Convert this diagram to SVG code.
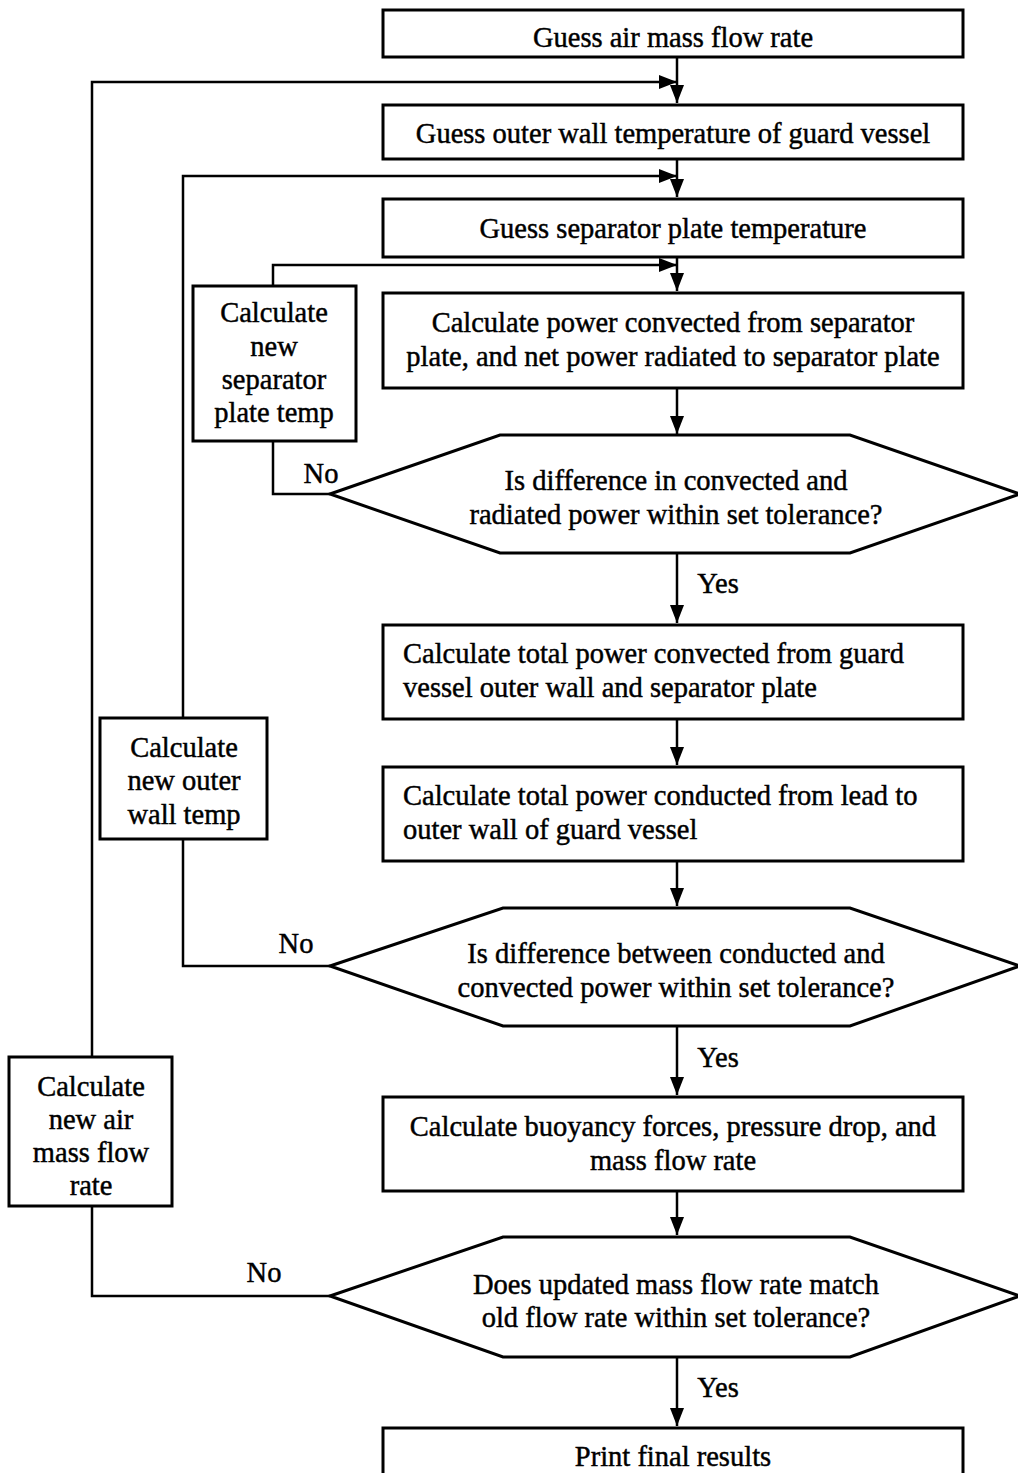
<svg xmlns="http://www.w3.org/2000/svg" width="1018" height="1473" viewBox="0 0 1018 1473">
<style>
.b{fill:#fff;stroke:#000;stroke-width:3}
.c{fill:none;stroke:#000;stroke-width:2.5}
text{font-family:"Liberation Serif","Times New Roman",serif;font-size:28.5px;fill:#000;stroke:#000;stroke-width:0.45}
.m{text-anchor:middle}
</style>
<defs>
<marker id="a" viewBox="0 0 18 14" refX="18" refY="7" markerWidth="18" markerHeight="14" markerUnits="userSpaceOnUse" orient="auto">
<path d="M0,0 L18,7 L0,14 Z" fill="#000"/>
</marker>
</defs>
<rect width="1018" height="1473" fill="#fff"/>
<g id="connectors">
<path class="c" d="M677,57 V103" marker-end="url(#a)"/>
<path class="c" d="M92,1057 V82 H677" marker-end="url(#a)"/>
<path class="c" d="M677,159 V197" marker-end="url(#a)"/>
<path class="c" d="M183,718 V176 H677" marker-end="url(#a)"/>
<path class="c" d="M677,257 V291" marker-end="url(#a)"/>
<path class="c" d="M273,286 V265 H677" marker-end="url(#a)"/>
<path class="c" d="M677,388 V434" marker-end="url(#a)"/>
<path class="c" d="M330,494 H273 V441"/>
<path class="c" d="M677,553 V623" marker-end="url(#a)"/>
<path class="c" d="M677,719 V765" marker-end="url(#a)"/>
<path class="c" d="M677,861 V906" marker-end="url(#a)"/>
<path class="c" d="M330,966 H183 V839"/>
<path class="c" d="M677,1026 V1095" marker-end="url(#a)"/>
<path class="c" d="M677,1191 V1235" marker-end="url(#a)"/>
<path class="c" d="M330,1296 H92 V1206"/>
<path class="c" d="M677,1357 V1426" marker-end="url(#a)"/>
<text x="321" y="483" class="m">No</text>
<text x="718" y="593" class="m">Yes</text>
<text x="296" y="953" class="m">No</text>
<text x="718" y="1067" class="m">Yes</text>
<text x="264" y="1282" class="m">No</text>
<text x="718" y="1397" class="m">Yes</text>
</g>
<g id="n1"><rect class="b" x="383" y="10" width="580" height="47"/><text x="673" y="47" class="m">Guess air mass flow rate</text></g>
<g id="n2"><rect class="b" x="383" y="105" width="580" height="54"/><text x="673" y="143" class="m">Guess outer wall temperature of guard vessel</text></g>
<g id="n3"><rect class="b" x="383" y="199" width="580" height="58"/><text x="673" y="238" class="m">Guess separator plate temperature</text></g>
<g id="n4"><rect class="b" x="383" y="293" width="580" height="95"/><text x="673" y="332" class="m">Calculate power convected from separator</text><text x="673" y="366" class="m">plate, and net power radiated to separator plate</text></g>
<g id="n5"><rect class="b" x="193" y="286" width="163" height="155"/><text x="274" y="322" class="m">Calculate</text><text x="274" y="356" class="m">new</text><text x="274" y="389" class="m">separator</text><text x="274" y="422" class="m">plate temp</text></g>
<g id="d1"><polygon class="b" points="330,494 500,435 850,435 1020,494 850,553 500,553"/><text x="676" y="490" class="m">Is difference in convected and</text><text x="676" y="524" class="m">radiated power within set tolerance?</text></g>
<g id="n6"><rect class="b" x="383" y="625" width="580" height="94"/><text x="403" y="663">Calculate total power convected from guard</text><text x="403" y="697">vessel outer wall and separator plate</text></g>
<g id="n7"><rect class="b" x="383" y="767" width="580" height="94"/><text x="403" y="805">Calculate total power conducted from lead to</text><text x="403" y="839">outer wall of guard vessel</text></g>
<g id="n8"><rect class="b" x="100" y="718" width="167" height="121"/><text x="184" y="757" class="m">Calculate</text><text x="184" y="790" class="m">new outer</text><text x="184" y="824" class="m">wall temp</text></g>
<g id="d2"><polygon class="b" points="330,966 503,908 850,908 1020,966 850,1026 503,1026"/><text x="676" y="963" class="m">Is difference between conducted and</text><text x="676" y="997" class="m">convected power within set tolerance?</text></g>
<g id="n9"><rect class="b" x="383" y="1097" width="580" height="94"/><text x="673" y="1136" class="m">Calculate buoyancy forces, pressure drop, and</text><text x="673" y="1170" class="m">mass flow rate</text></g>
<g id="n10"><rect class="b" x="9" y="1057" width="163" height="149"/><text x="91" y="1096" class="m">Calculate</text><text x="91" y="1129" class="m">new air</text><text x="91" y="1162" class="m">mass flow</text><text x="91" y="1195" class="m">rate</text></g>
<g id="d3"><polygon class="b" points="330,1296 503,1237 850,1237 1020,1296 850,1357 503,1357"/><text x="676" y="1294" class="m">Does updated mass flow rate match</text><text x="676" y="1327" class="m">old flow rate within set tolerance?</text></g>
<g id="n11"><rect class="b" x="383" y="1428" width="580" height="60"/><text x="673" y="1466" class="m">Print final results</text></g>
</svg>
